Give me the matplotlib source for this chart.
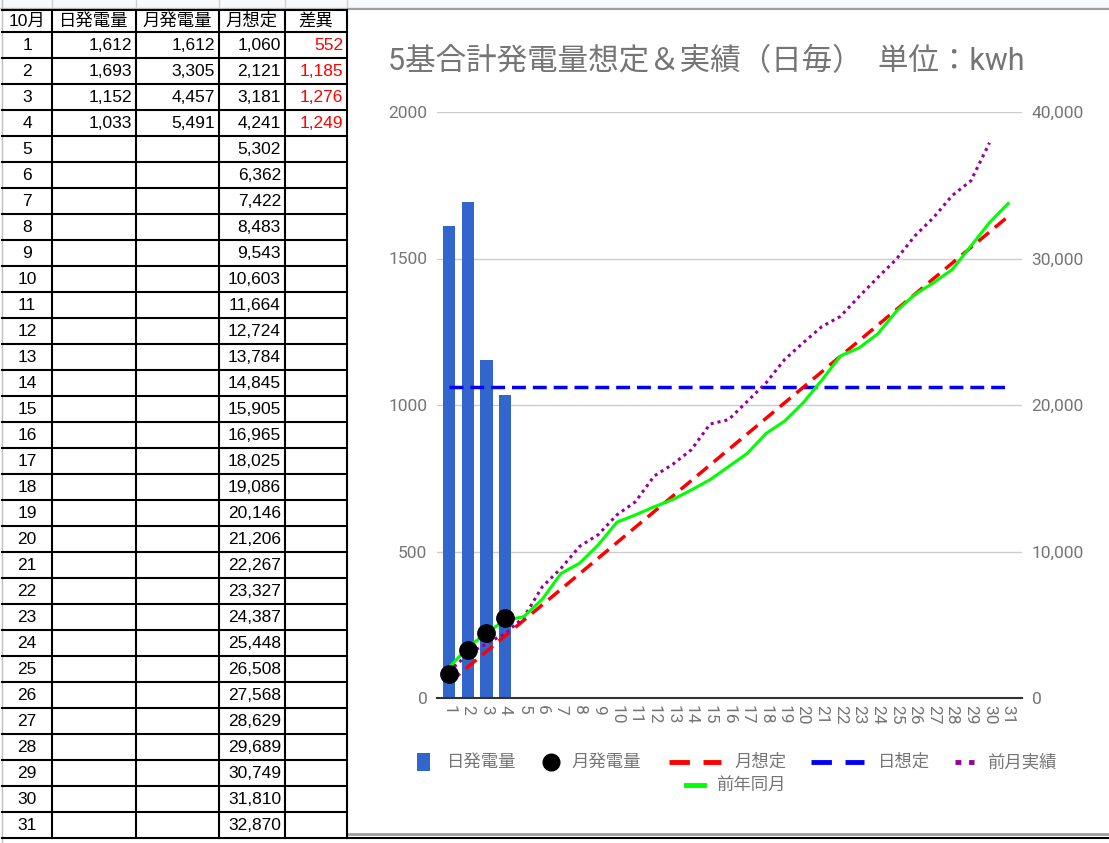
import matplotlib.pyplot as plt
from matplotlib.patches import Rectangle

W, H = 1109, 843

# ---- data ----
days = list(range(1, 32))
daily_gen = [1612, 1693, 1152, 1033]
monthly_gen = [1612, 3305, 4457, 5491]
monthly_plan = [1060, 2121, 3181, 4241, 5302, 6362, 7422, 8483, 9543, 10603,
                11664, 12724, 13784, 14845, 15905, 16965, 18025, 19086, 20146, 21206,
                22267, 23327, 24387, 25448, 26508, 27568, 28629, 29689, 30749, 31810,
                32870]
diff = [552, 1185, 1276, 1249]
daily_plan = 1060
prev_month = [1800, 3000, 3700, 4400, 5500, 7600, 8850, 10350, 11150, 12500,
              13400, 15150, 15950, 16950, 18700, 19000, 20250, 21500, 23100, 24250,
              25350, 26050, 27400, 28700, 29950, 31550, 32800, 34300, 35300, 37900]
prev_year = [2100, 3450, 4450, 5300, 5550, 6750, 8500, 9200, 10450, 12000,
             12500, 13050, 13550, 14200, 14900, 15800, 16700, 18050, 18900, 20150,
             21700, 23350, 23900, 24850, 26400, 27550, 28350, 29250, 30850, 32450,
             33750]

headers = ['10月', '日発電量', '月発電量', '月想定', '差異']
title = '5基合計発電量想定＆実績（日毎）  単位：kwh'
legend_labels = ['日発電量', '月発電量', '月想定', '日想定', '前月実績', '前年同月']

CHART_FONT = ['Roboto', 'Noto Sans CJK JP', 'DejaVu Sans']
TABLE_FONT = ['Liberation Sans', 'Noto Sans CJK JP', 'DejaVu Sans']
plt.rcParams['font.family'] = CHART_FONT
GRAY = '#757575'

fig = plt.figure(figsize=(W / 100, H / 100), dpi=100)
fig.patch.set_facecolor('white')

# background axes in pixel coords (y down) for the sheet part
bg = fig.add_axes([0, 0, 1, 1])
bg.set_xlim(0, W)
bg.set_ylim(H, 0)
bg.axis('off')

col_x = [2, 52, 136, 219, 285, 347]

# spreadsheet header strip
bg.add_patch(Rectangle((0, 0), W, 8, color='#f8f9fa', lw=0))
bg.plot([0, W], [8, 8], color='#bdbdbd', lw=1)
for x in col_x[1:]:
    bg.plot([x, x], [0, 8], color='#d0d0d0', lw=1)
bg.plot([1.5, 1.5], [0, H], color='#c0c0c0', lw=1)

# chart frame
bg.plot([348, W], [9, 9], color='#9e9e9e', lw=1.5)
bg.plot([348, W], [834, 834], color='#9e9e9e', lw=2)

# table grid
row_top = 32
row_h = 26
bg.plot([2, 347], [10, 10], color='black', lw=1.5)
for i in range(32):
    y = row_top + i * row_h
    bg.plot([2, 347], [y, y], color='black', lw=1.5)
bg.plot([347, W], [row_top + 31 * row_h, row_top + 31 * row_h], color='black', lw=1.5)
for x in col_x[1:]:
    bg.plot([x, x], [10, row_top + 31 * row_h], color='black', lw=1.5)

# table text
for j, h in enumerate(headers):
    bg.text((col_x[j] + col_x[j + 1]) / 2, 21, h, ha='center', va='center',
            fontsize=12.5, family=TABLE_FONT, color='black')

def fmt(v):
    return f'{v:,}'

for i, d in enumerate(days):
    y = row_top + i * row_h + row_h / 2 + 1
    bg.text((col_x[0] + col_x[1]) / 2, y, str(d), ha='center', va='center',
            fontsize=12.5, family=TABLE_FONT)
    if i < len(daily_gen):
        bg.text(col_x[2] - 4, y, fmt(daily_gen[i]), ha='right', va='center',
                fontsize=12.5, family=TABLE_FONT)
        bg.text(col_x[3] - 4, y, fmt(monthly_gen[i]), ha='right', va='center',
                fontsize=12.5, family=TABLE_FONT)
        bg.text(col_x[5] - 4, y, fmt(diff[i]), ha='right', va='center',
                fontsize=12.5, family=TABLE_FONT, color='#ff0000')
    bg.text(col_x[4] - 4, y, fmt(monthly_plan[i]), ha='right', va='center',
            fontsize=12.5, family=TABLE_FONT)

# ---- chart ----
bg.text(388, 62, title, ha='left', va='center', fontsize=22, color=GRAY)

ax = fig.add_axes([437 / W, 1 - 698 / H, (1022 - 437) / W, (698 - 112) / H])
ax.set_xlim(0.345, 31.745)
ax.set_ylim(0, 2000)
ax.set_facecolor('none')
ax.set_axisbelow(True)
ax.grid(axis='y', color='#cccccc', lw=1)
for s in ['top', 'left', 'right']:
    ax.spines[s].set_visible(False)
ax.spines['bottom'].set_color('#333333')
ax.spines['bottom'].set_linewidth(1.5)
ax.set_yticks([0, 500, 1000, 1500, 2000])
ax.set_xticks(days)
ax.set_xticklabels([str(d) for d in days], rotation=-90)
ax.tick_params(axis='both', length=0, colors=GRAY, labelsize=12.5)
ax.tick_params(axis='y', pad=7)
ax.tick_params(axis='x', pad=5)

ax.bar(days[:len(daily_gen)], daily_gen, width=0.65, color='#3366cc', zorder=2)
ax.plot(days, [daily_plan] * len(days), color='#0000ff', lw=2.5,
        dashes=(4, 2), zorder=3)

ax2 = ax.twinx()
ax2.set_ylim(0, 40000)
for s in ax2.spines.values():
    s.set_visible(False)
ax2.set_yticks([0, 10000, 20000, 30000, 40000])
ax2.yaxis.set_major_formatter(plt.FuncFormatter(lambda v, p: f'{int(v):,}'))
ax2.tick_params(axis='y', length=0, colors=GRAY, labelsize=12.5, pad=7)

ax2.plot(days, monthly_plan, color='#ff0000', lw=2.5, dashes=(4, 2.2))
ax2.plot(days[:len(prev_month)], prev_month, color='#990099', lw=2.2,
         dashes=(1, 1.3), solid_capstyle='butt', dash_capstyle='butt')
ax2.plot(days, prev_year, color='#00ff00', lw=2.2)
ax2.plot(days[:len(monthly_gen)], monthly_gen, 'o', color='black', ms=12.5, zorder=5)

# ---- legend (drawn in pixel coords) ----
ly1, ly2 = 762, 785
bg.add_patch(Rectangle((417, ly1 - 9), 13, 18, color='#3366cc', lw=0))
bg.text(447, ly1, legend_labels[0], va='center', fontsize=12.5, color=GRAY)
bg.plot([551], [ly1], 'o', color='black', ms=12)
bg.text(571, ly1, legend_labels[1], va='center', fontsize=12.5, color=GRAY)
bg.plot([669, 721], [ly1, ly1], color='#ff0000', lw=3.5, dashes=(4.2, 2.8))
bg.text(734, ly1, legend_labels[2], va='center', fontsize=12.5, color=GRAY)
bg.plot([811, 864], [ly1, ly1], color='#0000ff', lw=3.5, dashes=(4.2, 2.8))
bg.text(878, ly1, legend_labels[3], va='center', fontsize=12.5, color=GRAY)
bg.plot([955, 974], [ly1, ly1], color='#990099', lw=3.5, dashes=(1.2, 1.6),
        dash_capstyle='butt')
bg.text(987, ly1, legend_labels[4], va='center', fontsize=12.5, color=GRAY)
bg.plot([686, 704], [ly2, ly2], color='#00ff00', lw=3.5)
bg.text(716, ly2, legend_labels[5], va='center', fontsize=12.5, color=GRAY)

fig.savefig('out.png', dpi=100)
